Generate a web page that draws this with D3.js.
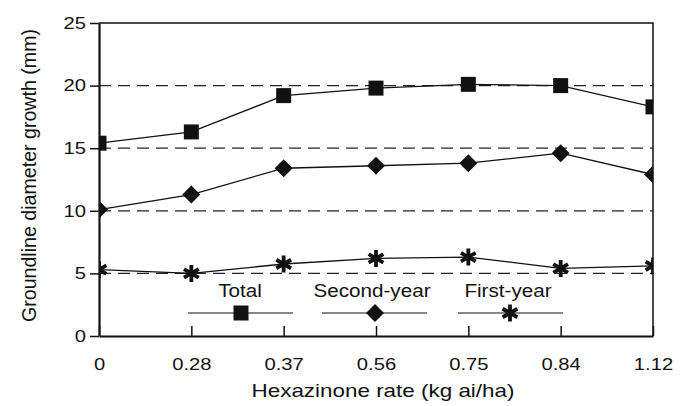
<!DOCTYPE html>
<meta charset="utf-8">
<style>
  body { margin: 0; background: white; }
  text { font-family: "Liberation Sans", Arial, helvetica, sans-serif; fill: #111; }
  .label { font-size: 19px; text-anchor: middle; }
  .legendText { font-size: 17.5px; text-anchor: middle; }
</style>
<body>
<script src="https://cdn.jsdelivr.net/npm/d3@7"></script>
<script>

// data
const rates = ["0", "0.28", "0.37", "0.56", "0.75", "0.84", "1.12"]
const total = [15.4, 16.3, 19.2, 19.8, 20.1, 20.0, 18.3]
const secondYear = [10.1, 11.3, 13.4, 13.6, 13.8, 14.6, 12.9]
const firstYear = [5.3, 5.0, 5.75, 6.2, 6.3, 5.4, 5.6]
const seriesNames = ["Total", "Second-year", "First-year"]
const yTicks = [0, 5, 10, 15, 20, 25]

const margin = {top: 23, right: 31, bottom: 70, left: 99},
      width = 684 - margin.left - margin.right,
      height = 406 - margin.top - margin.bottom;

const svg = d3.select("body")
  .append("svg")
    .attr("width", 684)
    .attr("height", 406)
  .append("g")
    .attr("transform", `translate(${margin.left}, ${margin.top})`);

const x = d3.scalePoint()
    .domain(rates)
    .range([0, width])
    .padding(0);

const y = d3.scaleLinear()
    .domain([0, 25])
    .range([height, 0]);

// the scanned figure's lettering is a bit wider than Arial
function stretch(sel, k) {
  sel.each(function() {
    const w = this.getComputedTextLength()
    d3.select(this).attr("textLength", w * k).attr("lengthAdjust", "spacingAndGlyphs")
  })
}

// dashed gridlines
svg.selectAll(".grid")
  .data(yTicks.filter(d => d > 0 && d < 25))
  .enter().append("line")
    .attr("class", "grid")
    .attr("x1", 0)
    .attr("x2", width)
    .attr("y1", d => y(d))
    .attr("y2", d => y(d))
    .attr("stroke", "#222")
    .attr("stroke-width", 1.2)
    .attr("stroke-dasharray", "12,7");

// top and right border
svg.append("path")
  .attr("d", `M0,${y(25)}H${width}V${height}`)
  .attr("fill", "none")
  .attr("stroke", "#111")
  .attr("stroke-width", 1.5);

// axes
const xAxis = svg.append("g")
  .attr("transform", `translate(0, ${height})`)
  .call(d3.axisBottom(x).tickSizeInner(-10).tickSizeOuter(0).tickPadding(22));

const yAxis = svg.append("g")
  .call(d3.axisLeft(y).tickValues(yTicks).tickSizeInner(9).tickSizeOuter(0).tickPadding(4));

[xAxis, yAxis].forEach(a => {
  a.select(".domain").attr("stroke", "#111").attr("stroke-width", 2.2);
  a.selectAll(".tick line").attr("stroke", "#111").attr("stroke-width", 1.5);
  a.selectAll(".tick text").attr("fill", "#111").style("font-size", "16.3px")
    .style("font-family", '"Liberation Sans", Arial, sans-serif')
    .call(stretch, 1.24);
});

// axis titles
svg.append("text")
  .attr("class", "label")
  .attr("x", width / 2 + 7)
  .attr("y", height + 61)
  .text("Hexazinone rate (kg ai/ha)")
  .call(stretch, 1.18);

svg.append("text")
  .attr("class", "label")
  .style("font-size", "20px")
  .attr("transform", `translate(${-margin.left + 36}, ${height / 2 - 4}) rotate(-90)`)
  .text("Groundline diameter growth (mm)")
  .call(stretch, 0.98);

// clip marks to plot area
svg.append("clipPath")
  .attr("id", "plotClip")
  .append("rect")
    .attr("x", 0).attr("y", 0)
    .attr("width", width).attr("height", height);

const plot = svg.append("g").attr("clip-path", "url(#plotClip)");

// markers
const square = d3.symbol().type(d3.symbolSquare).size(225)

function diamond(r) {
  return `M0,${-r}L${r},0L0,${r}L${-r},0Z`
}

function asterisk(r) {
  let p = ""
  for (let k = 0; k < 3; k++) {
    const a = Math.PI / 2 + k * Math.PI / 3
    const dx = r * Math.cos(a), dy = r * Math.sin(a)
    p += `M${-dx},${-dy}L${dx},${dy}`
  }
  return p
}

const series = [
  {name: seriesNames[0], values: total, marker: "square"},
  {name: seriesNames[1], values: secondYear, marker: "diamond"},
  {name: seriesNames[2], values: firstYear, marker: "asterisk"}
]

const line = d3.line()
  .x((d, i) => x(rates[i]))
  .y(d => y(d));

function drawMarker(g, type) {
  if (type === "square") {
    g.append("path").attr("d", square()).attr("fill", "#111");
  } else if (type === "diamond") {
    g.append("path").attr("d", diamond(9)).attr("fill", "#111");
  } else {
    g.append("path").attr("d", asterisk(8.5))
      .attr("stroke", "#111").attr("stroke-width", 3.8).attr("fill", "none");
  }
}

series.forEach(s => {
  plot.append("path")
    .datum(s.values)
    .attr("d", line)
    .attr("fill", "none")
    .attr("stroke", "#111")
    .attr("stroke-width", 1.3);

  s.values.forEach((v, i) => {
    const g = plot.append("g")
      .attr("transform", `translate(${x(rates[i])}, ${y(v)})`);
    drawMarker(g, s.marker);
  });
});

// legend
const legendPos = [
  {cx: 241, x1: 188, x2: 293},
  {cx: 375, x1: 322, x2: 427},
  {cx: 510, x1: 458, x2: 563}
]
const legendTextX = [240, 372, 508]

const legend = svg.append("g")
  .attr("transform", `translate(${-margin.left}, ${-margin.top})`);

series.forEach((s, i) => {
  const lp = legendPos[i]
  legend.append("text")
    .attr("class", "legendText")
    .attr("x", legendTextX[i])
    .attr("y", 297)
    .text(s.name)
    .call(stretch, 1.18);
  legend.append("line")
    .attr("x1", lp.x1).attr("x2", lp.x2)
    .attr("y1", 313).attr("y2", 313)
    .attr("stroke", "#111")
    .attr("stroke-width", 1.2);
  const g = legend.append("g")
    .attr("transform", `translate(${lp.cx}, 313)`);
  drawMarker(g, s.marker);
});

</script>
</body>
